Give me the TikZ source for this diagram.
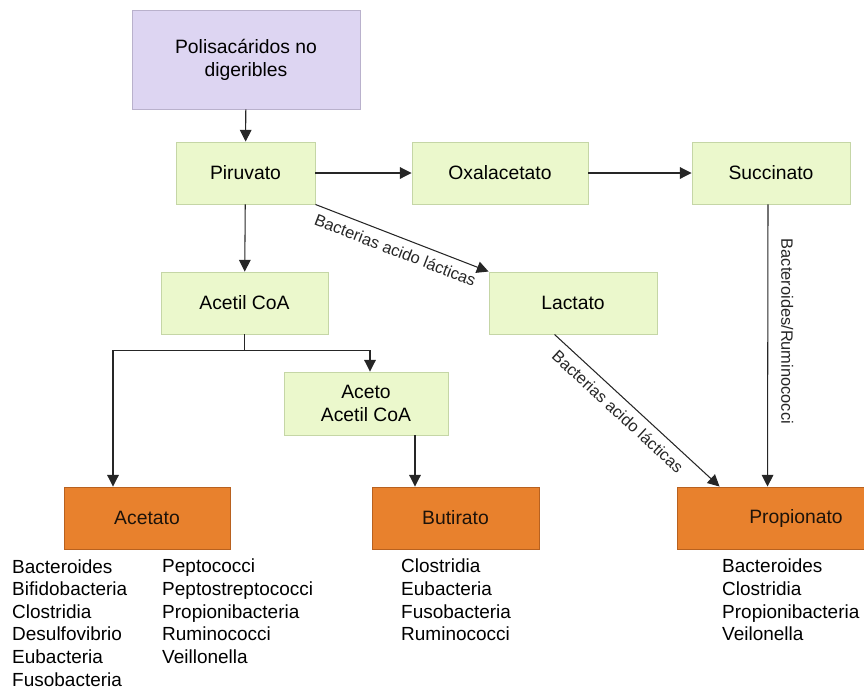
\documentclass[tikz,border=0pt]{standalone}
\usepackage{fontspec}
\setmainfont{Liberation Sans}
\usepackage{xcolor}
\usetikzlibrary{arrows.meta,calc}

\definecolor{lila}{HTML}{DDD5F2}
\definecolor{lilaline}{HTML}{B9B1CC}
\definecolor{verde}{HTML}{EBF8CC}
\definecolor{verdeline}{HTML}{C5D6A6}
\definecolor{naranja}{HTML}{E8812D}
\definecolor{naranjaline}{HTML}{B8611F}

\begin{document}
\begin{tikzpicture}[x=0.03cm, y=-0.03cm,
				caja/.style 	= {draw, line width=0.8pt, minimum height=1.86cm, inner sep=2pt,
								font=\fontsize{16.5}{19.5}\selectfont, align=center},
				inicio/.style 	= {caja, fill=lila, draw=lilaline},
				paso/.style 	= {caja, fill=verde, draw=verdeline},
				final/.style 	= {caja, fill=naranja, draw=naranjaline, text=black!85!brown},
				lista/.style 	= {anchor=north west, inner sep=0pt, align=left,
								font=\fontsize{16.2}{19.3}\selectfont},
				flecha/.style 	= {-{Triangle[length=10pt,width=10pt]}, line width=0.9pt, black!85},
				etiqueta/.style = {font=\fontsize{14}{16}\selectfont, inner sep=3pt}]
				%\draw[help lines] (0,0) grid (864,689);
				\useasboundingbox (0,0) rectangle (864,689);
				\clip (0,0) rectangle (864,689);
				
				% cajas
				\node[inicio, minimum width=6.84cm, minimum height=2.97cm] (poli) at (246,59.5) {Polisacáridos no\\digeribles};
				\node[paso, minimum width=4.17cm] (piru) at (245.5,173) {Piruvato};
				\node[paso, minimum width=5.28cm] (oxal) at (500,173) {Oxalacetato};
				\node[paso, minimum width=4.74cm] (succ) at (771,173) {Succinato};
				\node[paso, minimum width=5.01cm] (acetil) at (244.5,303) {Acetil CoA};
				\node[paso, minimum width=5.04cm] (lact) at (573,303) {Lactato};
				\node[paso, minimum width=4.92cm, minimum height=1.89cm] (aceto) at (366,403.5) {Aceto\\Acetil CoA};
				\node[final, minimum width=4.98cm] (acetato) at (147,518) {Acetato};
				\node[final, minimum width=5.01cm] (butir) at (455.5,518) {Butirato};
				\node[final, minimum width=7.14cm] (propi) at (796,518) {Propionato};
				
				% flechas
				\draw[flecha] (poli) -- (piru);
				\draw[flecha] (piru) -- (oxal);
				\draw[flecha] (oxal) -- (succ);
				\draw[flecha] (piru) -- (acetil);
				\draw[flecha] (piru.south east) -- node[etiqueta, sloped, below=3pt, pos=0.49] {Bacterias acido lácticas} (lact.north west);
				\draw[flecha] (acetil.south) -- ++(0,16) -| ($(acetato.north)+(-34,0)$);
				\draw[flecha] (acetil.south) -- ++(0,16) -| ($(aceto.north)+(4,0)$);
				\draw[flecha] ($(aceto.south)+(49,0)$) -- ($(butir.north)+(-40.5,0)$);
				\draw[flecha] ($(lact.south west)+(66,0)$) -- node[etiqueta, sloped, below=3pt, pos=0.44] {Bacterias acido lácticas} ($(propi.north west)+(43,0)$);
				\draw[flecha] ($(succ.south)+(-3,0)$) -- node[etiqueta, rotate=-90, anchor=south, inner ysep=11pt, pos=0.45] {Bacteroides/Ruminococci} ($(propi.north west)+(91,0)$);
				
				% bacterias
				\node[lista] (lacetato1) at (12,559) {Bacteroides\\Bifidobacteria\\Clostridia\\Desulfovibrio\\Eubacteria\\Fusobacteria};
				\node[lista] (lacetato2) at (162,559) {Peptococci\\Peptostreptococci\\Propionibacteria\\Ruminococci\\Veillonella};
				\node[lista] (lbutir) at (401,559) {Clostridia\\Eubacteria\\Fusobacteria\\Ruminococci};
				\node[lista] (lpropi) at (722,559) {Bacteroides\\Clostridia\\Propionibacteria\\Veilonella};
\end{tikzpicture}
\end{document}
